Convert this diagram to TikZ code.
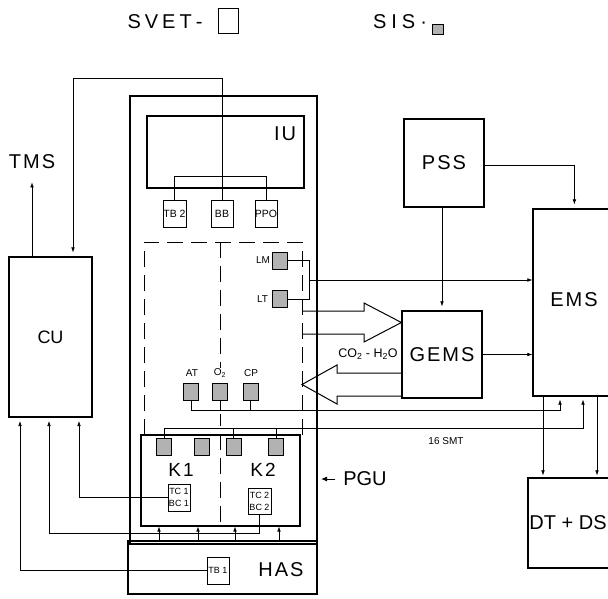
\documentclass[tikz,border=0pt]{standalone}
\usepackage{fontspec}
\setmainfont{Liberation Sans}
\usetikzlibrary{arrows.meta,calc}
\newcommand\lsp{\kern2pt}
\begin{document}
\begin{tikzpicture}[x=1pt,y=-1pt,line width=0.6pt,
  arr/.style={-{Latex[length=5pt,width=3.6pt]}},
  blk/.style={draw, inner sep=0pt, line width=1.2pt},
  sbox/.style={draw, inner sep=0pt, line width=0.7pt, align=center, font=\fontsize{10.5}{10.5}\selectfont},
  tbox/.style={draw, inner sep=0pt, line width=0.7pt, align=center, font=\fontsize{9}{12}\selectfont},
  sens/.style={draw, fill=gray!60, inner sep=0pt, line width=0.6pt, minimum width=15pt, minimum height=17pt},
  lbl/.style={inner sep=0pt, font=\fontsize{10}{10}\selectfont},
  big/.style={inner sep=0pt, font=\fontsize{20}{20}\selectfont},
  dsh/.style={line width=1pt, dash pattern=on 16pt off 8pt},
  hol/.style={line width=1pt, line join=miter},
]
\fill[white] (0,0) rectangle (608,598);
\useasboundingbox (0,0) rectangle (608,598);
\clip (0,0) rectangle (608,598);

% legend
\node[big] (svet) at (165,22) {S\kern4pt V\kern4pt E\kern4pt T\kern4pt -};
\node[draw, line width=0.6pt, minimum width=20pt, minimum height=25pt, inner sep=0pt] (svetbox) at (228,20.5) {};
\node[big] (sis) at (400,22) {S\kern5pt I\kern5pt S\kern5pt\textperiodcentered};
\node[sens, minimum width=11pt, minimum height=10pt] (sisbox) at (437.5,29) {};

% PGU frame and HAS
\node[blk, line width=2pt, minimum width=187pt, minimum height=448pt] (pgu) at (223.5,320) {};
\node[blk, line width=1.4pt, minimum width=189pt, minimum height=53pt] (has) at (222.5,567.5) {};
\node[big] (haslbl) at (281,570) {H\lsp A\lsp S};
\node[tbox, minimum width=22pt, minimum height=27pt] (tb1) at (218,570.5) {TB 1};

% IU
\node[blk, line width=1.5pt, minimum width=157pt, minimum height=72pt] (iu) at (225.5,152) {};
\node[big] (iulbl) at (285,134) {I\lsp U};
\node[sbox, minimum width=23pt, minimum height=27pt] (tb2) at (174.5,213.5) {TB 2};
\node[sbox, minimum width=22pt, minimum height=27pt] (bb) at (222,213.5) {BB};
\node[sbox, minimum width=22pt, minimum height=27pt] (ppo) at (266,213.5) {PPO};
\draw (tb2.north) -- ++(0,-23) -| (ppo.north);

% dashed region
\draw[dsh] (144,435) -- (144,242) -- (302,242) -- (302,435);
\draw[dsh] (220,242) -- (220,368);
\draw[dsh, dash phase=4pt] (220,414) -- (220,526);

% K box
\node[blk, line width=1.5pt, minimum width=159pt, minimum height=91pt] (kbox) at (220.5,480.5) {};
\node[big, font=\fontsize{19}{19}\selectfont] (k1) at (181,470) {K\kern2pt 1};
\node[big, font=\fontsize{19}{19}\selectfont] (k2) at (263,470) {K\kern2pt 2};
\node[tbox, minimum width=22pt, minimum height=27pt] (tc1) at (179,497.5) {TC 1\\BC 1};
\node[tbox, minimum width=23pt, minimum height=26pt] (tc2) at (259.5,501) {TC 2\\BC 2};

% sensors
\node[sens] (lm) at (280,260.5) {};
\node[sens] (lt) at (279.5,299) {};
\node[sens] (at) at (191,392) {};
\node[sens] (o2) at (220,392) {};
\node[sens] (cp) at (250.5,392) {};
\node[sens] (s1) at (164,447) {};
\node[sens] (s2) at (202,447) {};
\node[sens] (s3) at (233.5,447) {};
\node[sens] (s4) at (276,447) {};
\node[lbl] (lmlbl) at (263,260) {LM};
\node[lbl] (ltlbl) at (262.5,299) {LT};
\node[lbl] (atlbl) at (192,373) {AT};
\node[lbl] (o2lbl) at (220,373) {O\textsubscript{2}};
\node[lbl] (cplbl) at (251,373) {CP};

% right side blocks
\node[blk, minimum width=80pt, minimum height=88pt, font=\fontsize{20}{20}\selectfont] (pss) at (444,163) {P\lsp S\lsp S};
\node[blk, minimum width=80pt, minimum height=87pt, font=\fontsize{20}{20}\selectfont] (gems) at (442,354.5) {G\lsp E\lsp M\lsp S};
\node[blk, minimum width=107pt, minimum height=187pt] (ems) at (586.5,302.5) {};
\node[big] (emslbl) at (574,300) {E\lsp M\lsp S};
\node[blk, minimum width=112pt, minimum height=90pt] (dtds) at (584,523) {};
\node[big] (dtdslbl) at (568,523) {DT + DS};
\node[inner sep=0pt, font=\fontsize{12.5}{12.5}\selectfont] (co2) at (368,354) {CO\textsubscript{2} - H\textsubscript{2}O};
\node[lbl] (smt) at (446,441) {16 SMT};

% CU and TMS
\node[blk, minimum width=83pt, minimum height=160pt, font=\fontsize{18}{18}\selectfont] (cu) at (50.5,337) {CU};
\node[big] (tms) at (32,162) {T\lsp M\lsp S};

% PGU label
\node[big] (pgulbl) at (365,479) {PGU};
\draw[-{Latex[length=6pt,width=5pt]}, line width=1pt] ([xshift=-8pt]pgulbl.west) -- ($(pgu.east |- pgulbl.west)+(3,0)$);

% hollow arrows
\draw[hol] (302,311) -- (364,311) -- (364,303) -- (gems.west |- 0,322.5) -- (364,342) -- (364,334) -- (302,334);
\draw[hol] (gems.west |- 0,373) -- (337,373) -- (337,365) -- (302,384.5) -- (337,404) -- (337,396) -- (gems.west |- 0,396);

% connectors
\coordinate (c1) at (73,78);
\draw[arr, shorten >=4pt] (bb.north) |- (c1) -- (c1 |- cu.north);
\draw[arr, shorten >=13pt] (tms.south |- cu.north) -- (tms.south);

\draw (lm.east) -- (309,260.5) |- (lt.east);
\coordinate (brk) at (309,280);
\draw[arr] (brk) -- (brk -| ems.west);

\draw[arr, shorten >=4pt] (gems.north |- pss.south) -- (gems.north);
\draw[arr, shorten >=4pt] (pss.east |- 0,165) -| ($(ems.north west)+(42,0)$);
\draw[arr] (gems.east) -- (gems.east -| ems.west);

\coordinate (b1) at (560,410);
\draw[arr, shorten >=3pt] (at.south) |- (b1) -- (b1 |- ems.south);
\draw (o2.south) -- (o2.south |- b1);
\draw (cp.south) -- (cp.south |- b1);

\coordinate (b2) at (583,428);
\draw[arr, shorten >=3pt] (s1.north) |- (b2) -- (b2 |- ems.south);
\draw (s3.north) -- (s3.north |- b2);
\draw (s4.north) -- (s4.north |- b2);

\coordinate (x1) at (543,450);
\coordinate (x2) at (597,450);
\draw[arr, shorten >=2pt] (x1 |- ems.south) -- (x1 |- dtds.north);
\draw[arr, shorten >=2pt] (x2 |- ems.south) -- (x2 |- dtds.north);

\coordinate (cu1) at (20,417);
\coordinate (cu2) at (49,417);
\coordinate (cu3) at (79,417);
\draw[arr, shorten >=4pt] (tb1.west) -| (cu1);
\draw[arr, shorten >=4pt] (tc2.south) -- ++(0,19) -| (cu2);
\draw[arr, shorten >=4pt] (tc1.west) -| (cu3);

\foreach \xx in {159,198,235,279}
  \draw[arr] (\xx,541) -- (\xx,526.5);
\end{tikzpicture}
\end{document}
